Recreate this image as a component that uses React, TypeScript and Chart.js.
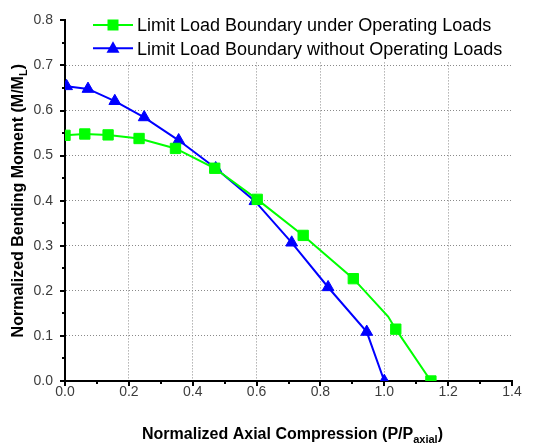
import React, { useEffect, useRef } from "react";
import { Chart, registerables } from "chart.js";

Chart.register(...registerables);

// ---- data ----
const seriesLabels = [
  "Limit Load Boundary under Operating Loads",
  "Limit Load Boundary without Operating Loads",
];
const greenX = [0, 0.062, 0.135, 0.232, 0.346, 0.469, 0.602, 0.746, 0.903, 1.012, 1.036, 1.146];
const greenY = [0.545, 0.548, 0.546, 0.538, 0.516, 0.472, 0.403, 0.323, 0.227, 0.143, 0.115, 0.0];
const greenMarked = [true, true, true, true, true, true, true, true, true, false, true, true];
const blueX = [0.005, 0.072, 0.156, 0.248, 0.356, 0.472, 0.595, 0.71, 0.824, 0.945, 1.0];
const blueY = [0.654, 0.648, 0.621, 0.585, 0.534, 0.472, 0.399, 0.307, 0.208, 0.109, 0.0];
const xTicks = [0, 0.2, 0.4, 0.6, 0.8, 1.0, 1.2, 1.4];
const yTicks = [0, 0.1, 0.2, 0.3, 0.4, 0.5, 0.6, 0.7, 0.8];
const xTitle = { main: "Normalized Axial Compression (P/P", sub: "axial", end: ")" };
const yTitle = { main: "Normalized Bending Moment (M/M", sub: "L", end: ")" };

const GREEN = "#00ff00";
const BLUE = "#0000ff";
const FONT = "'Liberation Sans', Arial, sans-serif";

function drawTitle(ctx: CanvasRenderingContext2D, t: { main: string; sub: string; end: string }, size: number) {
  const mainFont = `bold ${size}px ${FONT}`;
  const subFont = `bold ${Math.round(size * 0.7)}px ${FONT}`;
  ctx.font = mainFont;
  const w1 = ctx.measureText(t.main).width;
  const w3 = ctx.measureText(t.end).width;
  ctx.font = subFont;
  const w2 = ctx.measureText(t.sub).width;
  const total = w1 + w2 + w3;
  let x = -total / 2;
  const base = size * 0.716 / 2;
  ctx.textAlign = "left";
  ctx.textBaseline = "alphabetic";
  ctx.fillStyle = "#000";
  ctx.font = mainFont;
  ctx.fillText(t.main, x, base);
  x += w1;
  ctx.font = subFont;
  ctx.fillText(t.sub, x, base + size * 0.25);
  x += w2;
  ctx.font = mainFont;
  ctx.fillText(t.end, x, base);
}

const decorPlugin = {
  id: "decor",
  afterDraw(chart: any) {
    const ctx: CanvasRenderingContext2D = chart.ctx;
    const xs = chart.scales.x;
    const ys = chart.scales.y;
    const area = chart.chartArea;
    ctx.save();
    // ticks (major + minor)
    ctx.strokeStyle = "#000";
    ctx.lineWidth = 2;
    for (let i = 0; i <= 14; i++) {
      const v = i / 10;
      const px = Math.round(xs.getPixelForValue(v));
      const len = i % 2 === 0 ? 5 : 3;
      ctx.beginPath();
      ctx.moveTo(px, area.bottom);
      ctx.lineTo(px, area.bottom + len);
      ctx.stroke();
    }
    for (let i = 0; i <= 16; i++) {
      const v = i / 20;
      const py = Math.round(ys.getPixelForValue(v));
      const len = i % 2 === 0 ? 5 : 3;
      ctx.beginPath();
      ctx.moveTo(area.left, py);
      ctx.lineTo(area.left - len, py);
      ctx.stroke();
    }
    // axis titles
    ctx.save();
    ctx.translate((area.left + area.right) / 2 + 4, 433);
    drawTitle(ctx, xTitle, 16);
    ctx.restore();
    ctx.save();
    ctx.translate(17, (area.top + area.bottom) / 2);
    ctx.rotate(-Math.PI / 2);
    drawTitle(ctx, yTitle, 16);
    ctx.restore();

    // legend
    ctx.fillStyle = "#fff";
    ctx.fillRect(88, 0, chart.width - 88, 62);
    const rows = [
      { color: GREEN, style: "rect" },
      { color: BLUE, style: "triangle" },
    ];
    rows.forEach((r, i) => {
      const cy = 25 + i * 23.3;
      ctx.strokeStyle = r.color;
      ctx.lineWidth = 2;
      ctx.beginPath();
      ctx.moveTo(93, cy);
      ctx.lineTo(133, cy);
      ctx.stroke();
      ctx.fillStyle = r.color;
      ctx.beginPath();
      if (r.style === "rect") {
        ctx.rect(113 - 5.5, cy - 5.5, 11, 11);
      } else {
        ctx.moveTo(113, cy - 7);
        ctx.lineTo(113 + 6.5, cy + 4.5);
        ctx.lineTo(113 - 6.5, cy + 4.5);
        ctx.closePath();
      }
      ctx.fill();
      ctx.fillStyle = "#000";
      ctx.font = `18px ${FONT}`;
      ctx.textAlign = "left";
      ctx.textBaseline = "alphabetic";
      ctx.fillText(seriesLabels[i], 137, cy + 6.4);
    });
    ctx.restore();
  },
};

export default function App() {
  const ref = useRef<HTMLCanvasElement | null>(null);
  useEffect(() => {
    if (!ref.current) return;
    const gridColor = (edgeVals: number[]) => (c: any) => {
      const v = c.tick ? c.tick.value : 0;
      return edgeVals.some((e) => Math.abs(e - v) < 1e-6) ? "rgba(0,0,0,0)" : "#8a8a8a";
    };
    const chart = new Chart(ref.current, {
      type: "line",
      data: {
        datasets: [
          {
            label: seriesLabels[0],
            data: greenX.map((x, i) => ({ x, y: greenY[i] })),
            borderColor: GREEN,
            backgroundColor: GREEN,
            borderWidth: 2,
            pointStyle: "rect",
            pointRadius: greenMarked.map((m) => (m ? 7.3 : 0)),
            pointBorderWidth: 1,
            pointBackgroundColor: GREEN,
            pointBorderColor: GREEN,
            tension: 0,
          },
          {
            label: seriesLabels[1],
            data: blueX.map((x, i) => ({ x, y: blueY[i] })),
            borderColor: BLUE,
            backgroundColor: BLUE,
            borderWidth: 2,
            pointStyle: "triangle",
            pointRadius: 6.8,
            pointBorderWidth: 1,
            pointBackgroundColor: BLUE,
            pointBorderColor: BLUE,
            tension: 0,
          },
        ],
      },
      options: {
        responsive: false,
        animation: false,
        devicePixelRatio: 1,
        layout: { padding: { left: 0, top: 15, right: 21, bottom: 0 } },
        plugins: { legend: { display: false }, tooltip: { enabled: false }, title: { display: false } },
        scales: {
          x: {
            type: "linear",
            min: 0,
            max: 1.4,
            afterFit: (s: any) => {
              s.height = 64;
            },
            afterBuildTicks: (s: any) => {
              s.ticks = xTicks.map((v) => ({ value: v }));
            },
            ticks: {
              callback: (v: any) => Number(v).toFixed(1),
              font: { family: FONT, size: 14 },
              color: "#3c3c3c",
              padding: 3,
              maxRotation: 0,
            },
            grid: { color: gridColor([0, 1.4]), lineWidth: 1, drawTicks: false },
            border: { display: true, color: "#000", width: 2, dash: [1, 2] },
          },
          y: {
            type: "linear",
            min: 0,
            max: 0.8,
            afterFit: (s: any) => {
              s.width = 65;
            },
            afterBuildTicks: (s: any) => {
              s.ticks = yTicks.map((v) => ({ value: v }));
            },
            ticks: {
              callback: (v: any) => Number(v).toFixed(1),
              font: { family: FONT, size: 14 },
              color: "#3c3c3c",
              padding: 12,
            },
            grid: { color: gridColor([0, 0.8]), lineWidth: 1, drawTicks: false },
            border: { display: true, color: "#000", width: 2, dash: [1, 2] },
          },
        },
      },
      plugins: [decorPlugin],
    } as any);
    return () => chart.destroy();
  }, []);
  return (
    <div style={{ position: "fixed", left: 0, top: 0, width: 533, height: 445, background: "#fff" }}>
      <canvas ref={ref} width={533} height={445} style={{ width: 533, height: 445, display: "block" }} />
    </div>
  );
}
